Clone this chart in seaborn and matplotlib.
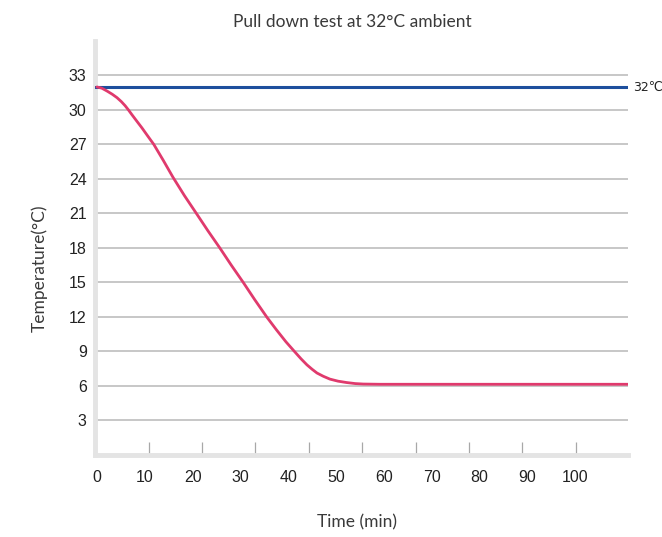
import matplotlib
matplotlib.use("Agg")
import matplotlib.pyplot as plt
import numpy as np
import pandas as pd
import seaborn as sns

time_min = [0, 1.0, 2.1, 3.2, 4.2, 5.1, 5.9, 6.6, 7.3, 8.3, 9.4, 10.6, 11.9, 13.9,
            15.9, 18.3, 20.8, 23.2, 25.7, 28.1, 30.6, 33.0, 35.5, 37.5, 39.5,
            41.3, 42.7, 43.9, 45.0, 46.0, 47.3, 48.7, 50.4, 52.2, 54.0, 55.7,
            59.2, 70, 80, 90, 100, 111]
temp_c = [32.0, 31.9, 31.65, 31.37, 31.07, 30.73, 30.37, 30.0, 29.6, 29.05, 28.45,
          27.75, 27.0, 25.6, 24.15, 22.55, 21.0, 19.5, 18.0, 16.5, 15.0, 13.5,
          12.0, 10.9, 9.85, 9.0, 8.35, 7.84, 7.45, 7.13, 6.85, 6.6, 6.42, 6.3,
          6.21, 6.17, 6.15, 6.15, 6.15, 6.15, 6.15, 6.15]
ambient = 32
y_ticks = [3, 6, 9, 12, 15, 18, 21, 24, 27, 30, 33]
x_labels = [0, 10, 20, 30, 40, 50, 60, 70, 80, 90, 100]
# the little tick marks on the time axis sit off the labels in the original
x_marks = [10.9, 22.0, 33.1, 44.3, 55.4, 66.6, 77.8, 88.9, 100.1]

df = pd.DataFrame({"time": time_min, "temp": temp_c})

sns.set_style("white")
plt.rcParams["font.family"] = ["Liberation Sans", "DejaVu Sans"]

fig = plt.figure(figsize=(6.62, 5.37), dpi=100)
ax = fig.add_axes([0.1435, 0.1527, 0.805, 0.771])

# grid lines only for the labelled temperatures
for y in y_ticks:
    ax.axhline(y, color="#b8b8b8", lw=1.1, zorder=1)

ax.axhline(ambient, color="#1d4f9d", lw=2.2, zorder=3)
sns.lineplot(data=df, x="time", y="temp", ax=ax, color="#e03a6d", lw=2.0, zorder=4)

ax.set_xlim(-0.4, 111)
ax.set_ylim(0, 36)

ax.set_yticks(y_ticks)
ax.set_xticks(x_labels)
ax.set_xticks(x_marks, minor=True)
ax.tick_params(axis="y", length=0, pad=6, labelsize=11.5, labelcolor="#222222")
ax.tick_params(axis="x", which="major", length=0, pad=11, labelsize=11.5, labelcolor="#222222")
ax.tick_params(axis="x", which="minor", bottom=True, direction="in", length=9.5,
               width=0.9, color="#a8a8a8")

for s in ["top", "right"]:
    ax.spines[s].set_visible(False)
for s in ["left", "bottom"]:
    ax.spines[s].set_color("#e4e4e4")
    ax.spines[s].set_linewidth(3.5)

ax.set_xlabel("")
ax.set_ylabel("")

label_font = dict(fontsize=12.5, family=["Lato", "DejaVu Sans"], color="#3a3a3a")
fig.text(0.532, 0.959, "Pull down test at 32\u00b0C ambient", ha="center", va="center", **label_font)
fig.text(0.539, 0.028, "Time (min)", ha="center", va="center", **label_font)
fig.text(0.06, 0.5, "Temperature(\u00b0C)", ha="center", va="center", rotation=90, **label_font)

ax.text(1.01, ambient, "32\u2103", transform=ax.get_yaxis_transform(), ha="left", va="center",
        fontsize=9, color="#222222", family=["DejaVu Sans"], clip_on=False)

fig.savefig("out.png", dpi=100)
